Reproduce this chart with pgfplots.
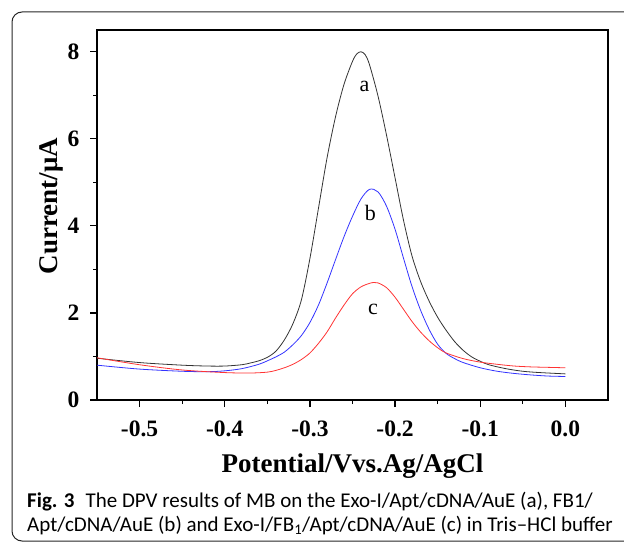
\documentclass[border=0pt]{standalone}
\usepackage{fontspec}
\setmainfont{Liberation Serif}
\newfontfamily\capfont{Carlito}
\usepackage{pgfplots}
\pgfplotsset{compat=1.18}

\pgfplotstableread{
x y
-0.550 0.96
-0.500 0.86
-0.450 0.80
-0.420 0.78
-0.400 0.78
-0.380 0.81
-0.370 0.85
-0.360 0.90
-0.350 0.98
-0.340 1.12
-0.330 1.38
-0.320 1.75
-0.310 2.30
-0.300 3.25
-0.290 4.40
-0.280 5.55
-0.270 6.50
-0.260 7.25
-0.250 7.78
-0.245 7.95
-0.240 8.00
-0.235 7.93
-0.230 7.70
-0.220 6.98
-0.210 6.08
-0.200 5.10
-0.190 4.12
-0.180 3.30
-0.170 2.72
-0.160 2.27
-0.150 1.90
-0.140 1.60
-0.130 1.34
-0.120 1.14
-0.110 0.99
-0.100 0.89
-0.090 0.81
-0.070 0.72
-0.050 0.66
-0.030 0.63
 0.000 0.60
}\curveA

\pgfplotstableread{
x y
-0.550 0.80
-0.500 0.71
-0.450 0.66
-0.420 0.65
-0.400 0.67
-0.380 0.72
-0.360 0.82
-0.350 0.90
-0.340 0.99
-0.330 1.10
-0.320 1.27
-0.310 1.48
-0.300 1.78
-0.290 2.18
-0.280 2.68
-0.270 3.22
-0.260 3.75
-0.250 4.22
-0.240 4.62
-0.230 4.84
-0.220 4.78
-0.210 4.45
-0.200 3.92
-0.190 3.25
-0.180 2.60
-0.170 2.06
-0.160 1.62
-0.150 1.28
-0.140 1.07
-0.130 0.95
-0.120 0.86
-0.100 0.74
-0.080 0.66
-0.060 0.61
-0.040 0.575
-0.020 0.55
 0.000 0.54
}\curveB

\pgfplotstableread{
x y
-0.550 0.97
-0.500 0.81
-0.450 0.69
-0.400 0.63
-0.370 0.62
-0.350 0.64
-0.340 0.68
-0.330 0.74
-0.320 0.82
-0.310 0.93
-0.300 1.08
-0.290 1.30
-0.280 1.56
-0.270 1.88
-0.260 2.18
-0.250 2.44
-0.240 2.60
-0.230 2.68
-0.225 2.70
-0.220 2.69
-0.210 2.58
-0.200 2.36
-0.190 2.08
-0.180 1.80
-0.170 1.56
-0.160 1.36
-0.150 1.20
-0.140 1.08
-0.120 0.95
-0.100 0.87
-0.080 0.82
-0.060 0.78
-0.040 0.76
-0.020 0.75
 0.000 0.74
}\curveC

\begin{document}
\begin{tikzpicture}[x=1pt,y=1pt]
\useasboundingbox (0,0) rectangle (624,544);
\draw[black!85, line width=1pt, rounded corners=10pt] (12,3) rectangle (650,532);
\begin{axis}[
    at={(97pt,144pt)}, anchor=south west,
    scale only axis, width=511pt, height=370pt,
    xmin=-0.55, xmax=0.05, ymin=0, ymax=8.5,
    xtick={-0.5,-0.4,...,0.01}, ytick={0,2,4,6,8},
    minor x tick num=1, minor y tick num=1,
    tick align=outside, xtick pos=bottom, ytick pos=left,
    major tick length=7pt, minor tick length=4pt,
    axis line style={line width=1.6pt},
    every tick/.style={black, line width=1.2pt},
    /pgf/number format/assume math mode=true,
    ticklabel style={font=\bfseries\fontsize{23.5}{23.5}\selectfont},
    xticklabel style={yshift=-10pt, /pgf/number format/.cd, fixed, fixed zerofill, precision=1},
    yticklabel style={xshift=-7pt},
    xlabel={Potential/Vvs.Ag/AgCl},
    ylabel={Current/μA},
    label style={font=\bfseries\fontsize{27}{27}\selectfont},
    xlabel style={at={(axis description cs:0.5,-0.197)}, anchor=base},
    ylabel style={at={(axis description cs:-0.078,0.524)}, anchor=base},
    every axis plot/.append style={line width=0.8pt, smooth},
]
\addplot[black!80] table {\curveA};
\addplot[blue!80] table {\curveB};
\addplot[red!80] table {\curveC};
\node[font=\fontsize{22}{22}\selectfont] at (axis cs:-0.236,7.2) {a};
\node[font=\fontsize{22}{22}\selectfont] at (axis cs:-0.229,4.3) {b};
\node[font=\fontsize{22}{22}\selectfont] at (axis cs:-0.226,2.07) {c};
\end{axis}
\node[anchor=base west, inner sep=0pt, font=\capfont\fontsize{21}{21}\selectfont] at (27,37)
  {\textbf{Fig. 3}\hspace{0.3em} The DPV results of MB on the Exo-I/Apt/cDNA/AuE (a), FB1/};
\node[anchor=base west, inner sep=0pt, font=\capfont\fontsize{21}{21}\selectfont] at (27,13)
  {Apt/cDNA/AuE (b) and Exo-I/FB\textsubscript{1}/Apt/cDNA/AuE (c) in Tris–HCl buffer};
\end{tikzpicture}
\end{document}
